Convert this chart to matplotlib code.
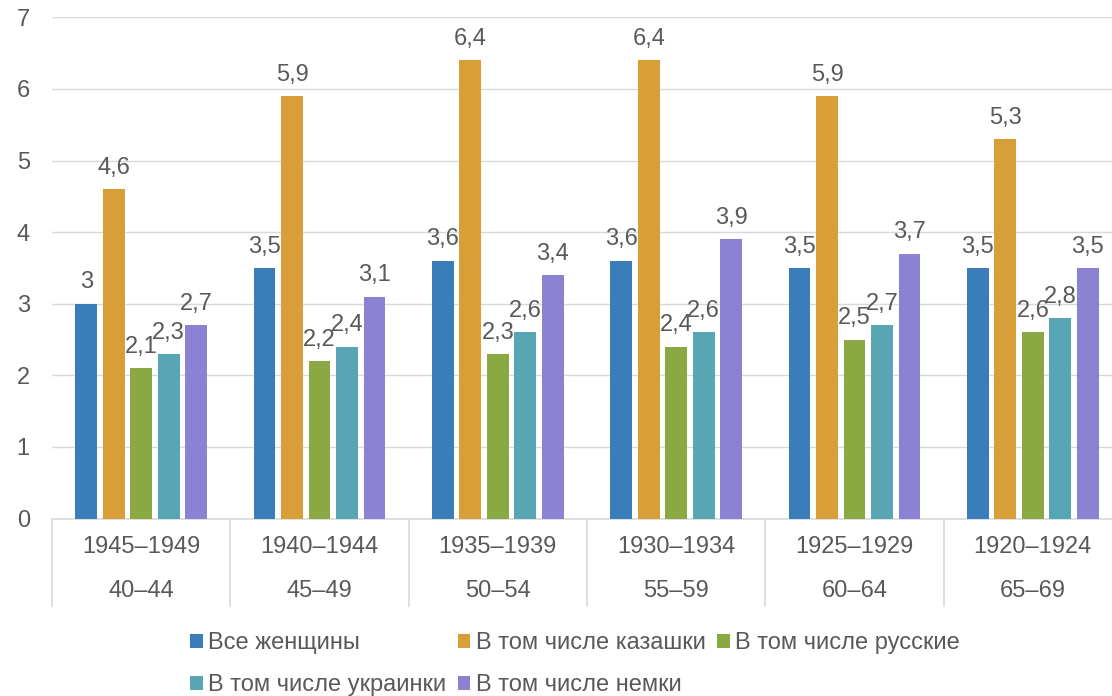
import numpy as np
import matplotlib.pyplot as plt

plt.rcParams['font.family'] = ['Liberation Sans', 'DejaVu Sans']

years = ["1945–1949", "1940–1944", "1935–1939", "1930–1934", "1925–1929", "1920–1924"]
ages = ["40–44", "45–49", "50–54", "55–59", "60–64", "65–69"]

series_names = ["Все женщины", "В том числе казашки", "В том числе русские",
                "В том числе украинки", "В том числе немки"]
all_women = [3.0, 3.5, 3.6, 3.6, 3.5, 3.5]
kazakh = [4.6, 5.9, 6.4, 6.4, 5.9, 5.3]
russian = [2.1, 2.2, 2.3, 2.4, 2.5, 2.6]
ukrainian = [2.3, 2.4, 2.6, 2.6, 2.7, 2.8]
german = [2.7, 3.1, 3.4, 3.9, 3.7, 3.5]

colors = ["#3a7eb9", "#d89f38", "#8ba942", "#58a6b3", "#8b82d3"]
grey = "#595959"
light = "#d9d9d9"
fs = 17

fig = plt.figure(figsize=(11.12, 6.96), dpi=100)
ax = fig.add_axes([52 / 1112, (696 - 518.5) / 696, 1070 / 1112, 501.2 / 696])

x = np.arange(len(years))
step = 0.154
width = 0.122
handles = []
for i, (vals, name) in enumerate(zip([all_women, kazakh, russian, ukrainian, german], series_names)):
    pos = x + (i - 2) * step
    b = ax.bar(pos, vals, width, color=colors[i], label=name, zorder=3)
    handles.append(b)
    for p, v in zip(pos, vals):
        txt = ("%g" % v).replace(".", ",")
        ax.annotate(txt, (p, v), xytext=(0, 11), textcoords="offset points",
                    ha="center", va="baseline", fontsize=fs, color=grey)

ax.set_xlim(-0.5, len(years) - 0.5)
ax.set_ylim(0, 7)
ax.set_yticks(range(8))
ax.tick_params(axis="y", length=0, pad=16, labelsize=fs, labelcolor=grey)
ax.set_xticks([])
ax.grid(axis="y", color=light, linewidth=1, zorder=0)
for s in ["left", "right", "top"]:
    ax.spines[s].set_visible(False)
ax.spines["bottom"].set_color(light)
ax.spines["bottom"].set_linewidth(1.2)

# two-level category axis
trans = ax.get_xaxis_transform()
for b in np.arange(-0.5, len(years), 1.0):
    ax.plot([b, b], [0, -0.1746], transform=trans, color=light, linewidth=1.2, clip_on=False)
for xi, yl, al in zip(x, years, ages):
    ax.text(xi, -0.0563, yl, transform=trans, ha="center", va="center", fontsize=fs, color=grey)
    ax.text(xi, -0.144, al, transform=trans, ha="center", va="center", fontsize=fs, color=grey)

order = [0, 3, 1, 4, 2]
leg = fig.legend([handles[k] for k in order], [series_names[k] for k in order],
                 loc="center", bbox_to_anchor=(575 / 1112, 1 - 664 / 696), ncol=3,
                 frameon=False, fontsize=fs, handlelength=0.53, handleheight=0.53,
                 handletextpad=0.22, columnspacing=0.5, labelspacing=0.85,
                 borderpad=0, borderaxespad=0)
for t in leg.get_texts():
    t.set_color(grey)

fig.savefig("out.png", dpi=100)
